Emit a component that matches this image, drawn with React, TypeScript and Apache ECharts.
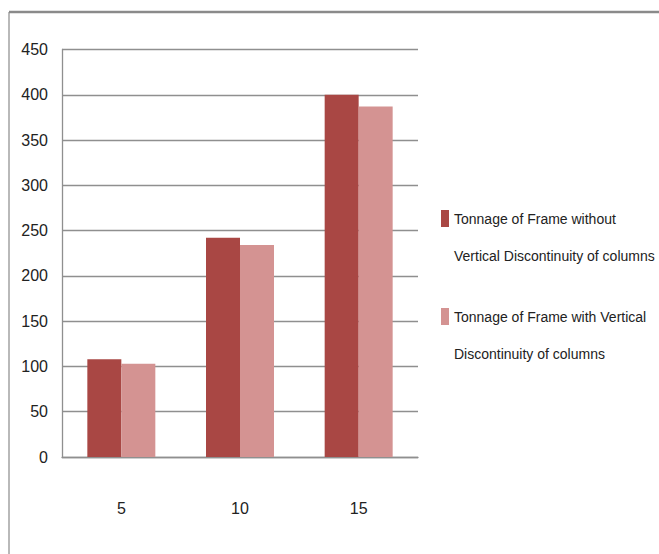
import React, { useEffect, useRef } from "react";
import * as echarts from "echarts";

const categories = ["5", "10", "15"];
const seriesNames = [
  "Tonnage of Frame without\nVertical Discontinuity of columns",
  "Tonnage of Frame with Vertical\nDiscontinuity of columns",
];
const withoutDiscontinuity = [108, 242, 400];
const withDiscontinuity = [103, 234, 387];
const colors = ["#A94744", "#D49392"];

const FONT = "'Liberation Sans', Arial, sans-serif";

export default function App() {
  const ref = useRef<HTMLDivElement>(null);
  useEffect(() => {
    if (!ref.current) return;
    const chart = echarts.init(ref.current, undefined, { renderer: "svg" });
    const legendCommon = {
      orient: "vertical",
      left: 441,
      padding: 0,
      itemWidth: 8,
      itemHeight: 17,
      itemGap: 0,
      icon: "rect",
      selectedMode: false,
      formatter: (name: string) => "\n" + name,
      textStyle: {
        fontFamily: FONT,
        fontSize: 14,
        color: "#222",
        lineHeight: 37,
      },
    };
    chart.setOption({
      animation: false,
      backgroundColor: "#fff",
      color: colors,
      grid: { left: 62, right: 241, top: 49.5, bottom: 97, containLabel: false },
      legend: [
        { ...legendCommon, top: 163, data: [seriesNames[0]] },
        { ...legendCommon, top: 261, data: [seriesNames[1]] },
      ],
      xAxis: {
        type: "category",
        data: categories,
        axisLine: { show: true, lineStyle: { color: "#8f8f8f", width: 1.3 } },
        axisTick: { show: false },
        axisLabel: { margin: 43, fontFamily: FONT, fontSize: 16, color: "#222" },
      },
      yAxis: {
        type: "value",
        min: 0,
        max: 450,
        interval: 50,
        axisLine: { show: true, lineStyle: { color: "#8f8f8f", width: 1.3 } },
        axisTick: { show: false },
        axisLabel: { margin: 14, fontFamily: FONT, fontSize: 16, color: "#222" },
        splitLine: { show: true, lineStyle: { color: "#8f8f8f", width: 1.3 } },
      },
      series: [
        {
          name: seriesNames[0],
          type: "bar",
          data: withoutDiscontinuity,
          barWidth: 34,
          barGap: "0%",
          itemStyle: { color: colors[0] },
        },
        {
          name: seriesNames[1],
          type: "bar",
          data: withDiscontinuity,
          barWidth: 34,
          barGap: "0%",
          itemStyle: { color: colors[1] },
        },
      ],
      graphic: [
        {
          type: "line",
          shape: { x1: 9, y1: 12, x2: 659, y2: 12 },
          style: { stroke: "#8a8a8a", lineWidth: 2.5 },
        },
        {
          type: "line",
          shape: { x1: 9, y1: 12, x2: 9, y2: 554 },
          style: { stroke: "#8a8a8a", lineWidth: 1.2 },
        },
      ],
    });
    return () => chart.dispose();
  }, []);
  return (
    <div
      ref={ref}
      style={{ position: "fixed", left: 0, top: 0, width: 659, height: 554 }}
    />
  );
}
